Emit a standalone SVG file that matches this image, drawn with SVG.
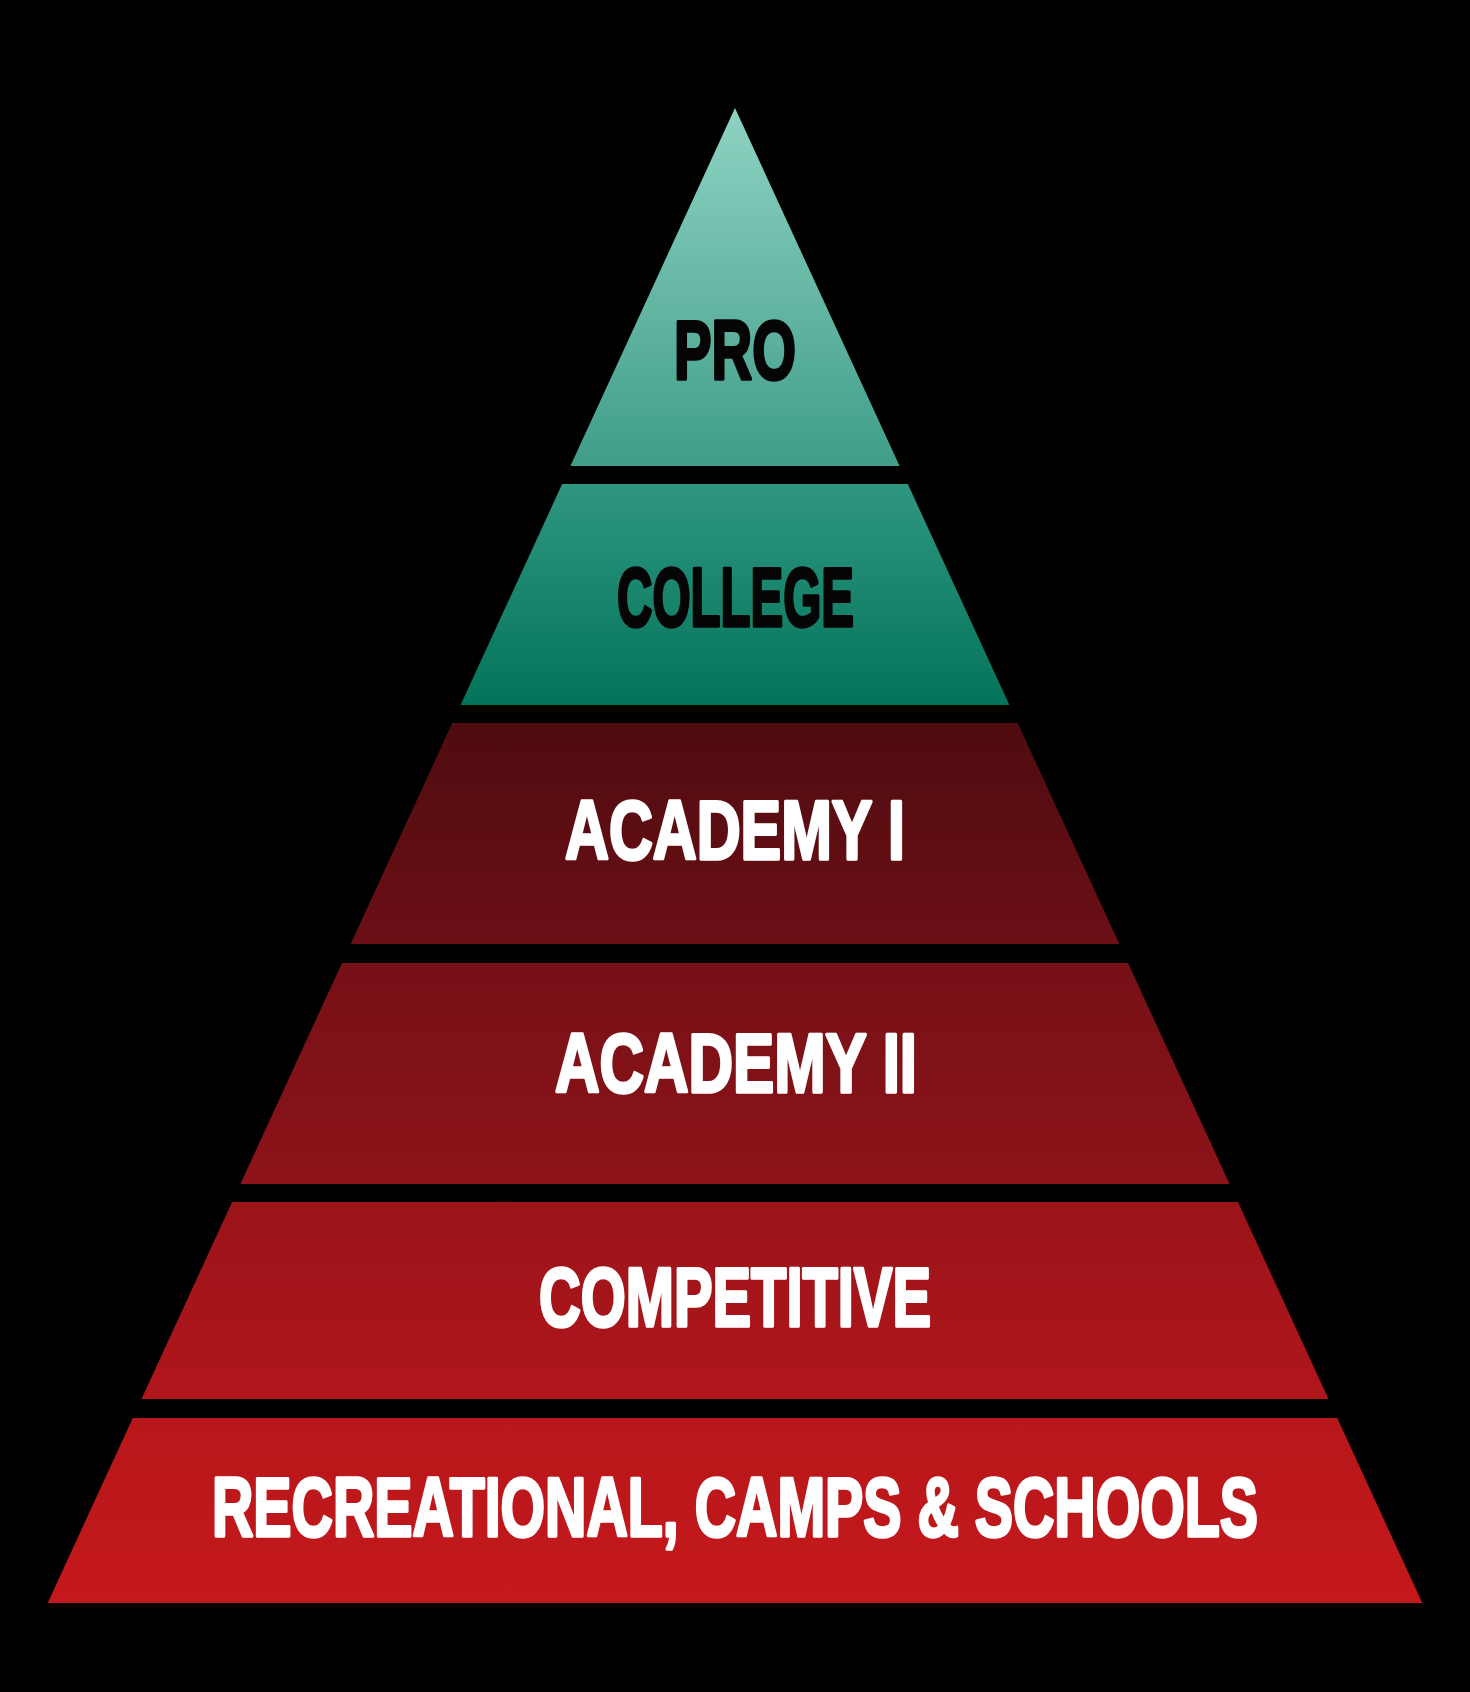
<svg xmlns="http://www.w3.org/2000/svg" width="1470" height="1692" viewBox="0 0 1470 1692">
  <defs>
    <linearGradient id="teal" gradientUnits="userSpaceOnUse" x1="0" y1="108" x2="0" y2="705">
      <stop offset="0" stop-color="#8fd2c2"/>
      <stop offset="0.6" stop-color="#3f9e88"/>
      <stop offset="0.63" stop-color="#2f9681"/>
      <stop offset="1" stop-color="#037459"/>
    </linearGradient>
    <linearGradient id="red" gradientUnits="userSpaceOnUse" x1="0" y1="723" x2="0" y2="1603">
      <stop offset="0" stop-color="#4f0c10"/>
      <stop offset="0.251" stop-color="#6b0f15"/>
      <stop offset="0.273" stop-color="#761117"/>
      <stop offset="0.524" stop-color="#8c1319"/>
      <stop offset="0.545" stop-color="#9a1419"/>
      <stop offset="0.769" stop-color="#b0161b"/>
      <stop offset="0.791" stop-color="#b7171b"/>
      <stop offset="1" stop-color="#c5181c"/>
    </linearGradient>
    <style>
      .lbl { font-family: "Liberation Sans", "DejaVu Sans", Arial, sans-serif; font-weight: bold; font-size: 84px; text-anchor: middle; stroke-width: 3.5; stroke-linejoin: round; }
      .dark { fill: #050505; stroke: #050505; }
      .light { fill: #ffffff; stroke: #ffffff; }
      .t { fill: url(#teal); }
      .r { fill: url(#red); }
    </style>
  </defs>
  <rect x="0" y="0" width="1470" height="1692" fill="#000000"/>

  <g id="pro">
    <polygon class="t" points="735,108 899.6,466 570.4,466"/>
    <text class="lbl dark" x="735" y="379" textLength="122" lengthAdjust="spacingAndGlyphs">PRO</text>
  </g>
  <g id="college">
    <polygon class="t" points="562.2,484 907.8,484 1009.4,705 460.6,705"/>
    <text class="lbl dark" x="735.5" y="626" textLength="237" lengthAdjust="spacingAndGlyphs">COLLEGE</text>
  </g>
  <g id="academy-1">
    <polygon class="r" points="452.3,723 1017.7,723 1119.3,944 350.7,944"/>
    <text class="lbl light" x="735" y="859" textLength="340" lengthAdjust="spacingAndGlyphs">ACADEMY I</text>
  </g>
  <g id="academy-2">
    <polygon class="r" points="342,963 1128,963 1229.6,1184 240.4,1184"/>
    <text class="lbl light" x="736" y="1092" textLength="362" lengthAdjust="spacingAndGlyphs">ACADEMY II</text>
  </g>
  <g id="competitive">
    <polygon class="r" points="232.1,1202 1237.9,1202 1328.5,1399 141.5,1399"/>
    <text class="lbl light" x="735" y="1326" textLength="392" lengthAdjust="spacingAndGlyphs">COMPETITIVE</text>
  </g>
  <g id="recreational">
    <polygon class="r" points="132.8,1418 1337.2,1418 1422.3,1603 47.7,1603"/>
    <text class="lbl light" x="735" y="1536" textLength="1046" lengthAdjust="spacingAndGlyphs">RECREATIONAL, CAMPS &amp; SCHOOLS</text>
  </g>
</svg>
